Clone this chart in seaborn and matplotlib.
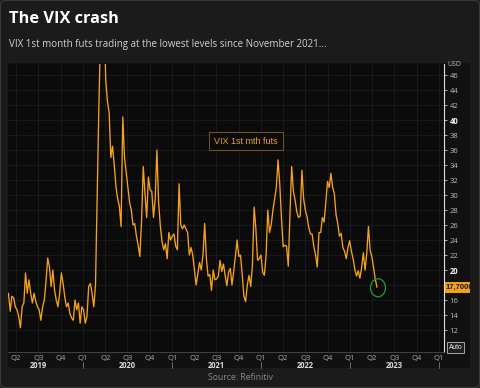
import numpy as np
import pandas as pd
import matplotlib
matplotlib.use("Agg")
import matplotlib.pyplot as plt
import matplotlib.dates as mdates
from matplotlib.patches import FancyBboxPatch, Ellipse, Rectangle
from matplotlib.transforms import Bbox, TransformedBbox, blended_transform_factory
import seaborn as sns

# ---------------- data (weekly readings) ----------------
start_date = "2019-03-01"
vix_values = [
    16.9, 14.5, 16.5, 16.3, 15.1, 14.7, 13.8, 12.3, 15.1, 15.6,
    19.6, 16.9, 18.7, 16.9, 15.6, 16.9, 15.8, 15.1, 14.7, 13.3,
    15.1, 16.0, 18.5, 21.6, 20.4, 17.8, 20.0, 17.3, 16.0, 15.1,
    16.9, 19.6, 18.2, 16.4, 15.1, 15.6, 14.2, 13.6, 13.3, 16.0,
    14.7, 15.6, 12.9, 15.1, 14.7, 12.9, 13.8, 17.8, 18.2, 16.9,
    15.1, 18.0, 30.0, 42.0, 52.0, 60.0, 55.0, 45.3, 42.5, 41.0,
    35.0, 36.5, 34.0, 31.1, 29.5, 28.5, 25.8, 40.4, 35.0, 33.0,
    31.0, 29.0, 28.0, 26.0, 26.2, 24.5, 23.3, 21.8, 26.5, 33.8,
    30.2, 27.0, 32.4, 30.7, 30.5, 27.0, 29.5, 36.0, 29.0, 25.9,
    23.8, 22.7, 23.5, 21.5, 25.0, 24.0, 24.5, 24.8, 23.2, 22.7,
    31.5, 26.0, 25.5, 26.0, 25.5, 25.0, 22.0, 23.0, 22.0, 20.0,
    18.0, 19.5, 21.0, 20.0, 22.0, 26.2, 21.5, 19.2, 19.4, 17.3,
    20.0, 18.7, 18.8, 19.2, 21.3, 19.8, 20.8, 19.3, 17.9, 19.7,
    20.2, 18.0, 19.8, 21.8, 24.0, 21.8, 22.0, 19.4, 16.5, 15.8,
    18.0, 19.3, 17.8, 20.7, 28.4, 25.5, 21.3, 21.5, 22.0, 19.7,
    19.3, 22.0, 28.0, 25.0, 26.0, 28.0, 29.5, 31.0, 34.7, 31.5,
    27.0, 23.1, 23.3, 23.2, 20.5, 27.5, 33.8, 30.5, 29.3, 27.8,
    27.0, 27.2, 33.3, 29.5, 28.0, 27.1, 25.7, 24.8, 24.8, 23.1,
    22.0, 20.4, 25.0, 25.0, 27.0, 26.4, 29.0, 31.8, 31.0, 32.9,
    31.0, 30.2, 27.4, 26.2, 24.5, 24.9, 23.0, 22.5, 21.5, 23.0,
    23.9, 22.5, 21.5, 20.1, 19.2, 19.9, 18.9, 20.3, 22.3, 20.0,
    22.2, 25.8, 22.6, 21.8, 20.3, 18.8, 17.7,
]
dates = pd.date_range(start_date, periods=len(vix_values), freq="7D")

quarter_starts = pd.date_range("2019-04-01", "2024-01-01", freq="QS")
quarter_labels = ["Q%d" % q for q in quarter_starts.quarter]
year_labels = ["2019", "2020", "2021", "2022", "2023"]
y_ticks = list(range(12, 47, 2))
hidden_tick = 18
last_label = "17,7000"

title = "The VIX crash"
subtitle = "VIX 1st month futs trading at the lowest levels since November 2021..."
series_label = "VIX 1st mth futs"
source = "Source: Refinitiv"

# ---------------- style ----------------
sns.set_theme(style="dark")
plt.rcParams["font.family"] = ["Open Sans", "DejaVu Sans"]

W, H = 480, 388
fig = plt.figure(figsize=(W / 100, H / 100), dpi=100, facecolor="#1b1b1b")

def fx(px):
    return px / W

def fy(py):
    return 1 - py / H

# outer frame
fig.patches.append(FancyBboxPatch((fx(0.5), fy(387.5)), fx(479), 387 / H,
                                  boxstyle="round,pad=0,rounding_size=0.01",
                                  transform=fig.transFigure, fc="none",
                                  ec="#3a3a3a", lw=0.8, zorder=-20))
# chart panel
fig.patches.append(FancyBboxPatch((fx(8), fy(368)), fx(470 - 8), (368 - 63) / H,
                                  boxstyle="round,pad=0,rounding_size=0.006",
                                  transform=fig.transFigure, fc="#111111",
                                  ec="none", zorder=-10))

ax = fig.add_axes([fx(8), fy(352), fx(444 - 8), (352 - 64) / H])
ax.set_facecolor("#0b0b0b")

sns.lineplot(x=dates, y=vix_values, ax=ax, color="#f5a21c", lw=0.95)

ax.set_xlim(pd.Timestamp("2019-02-27"), pd.Timestamp("2024-01-21"))
ax.set_ylim(9.07, 47.47)

ax.set_xticks(quarter_starts)
ax.set_xticklabels(quarter_labels)
ax.set_yticks(y_ticks)
ax.set_yticklabels(["" if v == hidden_tick else str(v) for v in y_ticks])
ax.yaxis.tick_right()
ax.set_xlabel("")
ax.set_ylabel("")

ax.grid(True, color="#1c1c1c", lw=0.6)
ax.tick_params(axis="x", length=0, pad=2.2, labelsize=5.5, labelcolor="#a8a8a8")
ax.tick_params(axis="y", length=2.5, width=0.6, color="#cfcfcf", pad=1.5,
               labelsize=5.5, labelcolor="#bdbdbd", direction="out")
for lbl in ax.get_yticklabels():
    if lbl.get_text() in ("20", "40"):
        lbl.set_fontweight("bold")
        lbl.set_color("#f0f0f0")

for s in ("top", "left"):
    ax.spines[s].set_visible(False)
ax.spines["right"].set_color("#e0e0e0")
ax.spines["right"].set_linewidth(0.8)
ax.spines["bottom"].set_color("#4a4a4a")
ax.spines["bottom"].set_linewidth(0.6)

# year labels & separators
bt = blended_transform_factory(ax.transData, ax.transAxes)
for yl in year_labels:
    ax.text(pd.Timestamp(f"{yl}-07-01"), -14 / 288, yl, transform=bt,
            ha="center", va="center", fontsize=5.5, fontweight="bold",
            color="#dcdcdc", clip_on=False)
for d in quarter_starts:
    if d.quarter == 1:
        ax.plot([d, d], [-10 / 288, -16 / 288], transform=bt, color="#7a7a7a",
                lw=0.6, clip_on=False)

# USD label at top of axis
fig.text(fx(447), fy(64), "USD", fontsize=5, color="#bdbdbd", ha="left",
         va="center")

# last-value highlight
fig.canvas.draw()
last_xy = ax.transData.transform((mdates.date2num(dates[-1]), vix_values[-1]))
ly = last_xy[1] / fig.dpi / (H / 100)
fig.patches.append(Rectangle((fx(444.5), ly - 5.5 / H), fx(470 - 444.5), 11 / H,
                             transform=fig.transFigure, fc="#f2a11e", ec="none"))
t = fig.text(fx(445.5), ly, last_label, fontsize=5.5, fontweight="bold",
             color="#1a1a1a", ha="left", va="center",
             family=["Liberation Sans", "DejaVu Sans"])
t.set_clip_on(True)
t.set_clip_box(TransformedBbox(Bbox([[0, 0], [470 / W, 1]]), fig.transFigure))

# green circle around the last value
ex = last_xy[0] / fig.dpi / (W / 100)
fig.patches.append(Ellipse((ex + 1 / W, ly - 0.5 / H), 15 / W, 18 / H,
                           transform=fig.transFigure, fc="none", ec="#229a3a",
                           lw=0.9))

# Auto box
fig.text(fx(455.5), fy(347.5), "Auto", fontsize=4.8, color="#f0f0f0",
         ha="center", va="center", family=["Liberation Sans", "DejaVu Sans"],
         bbox=dict(boxstyle="square,pad=0.25", fc="#1e1e1e", ec="#bdbdbd",
                   lw=0.6))

# series label box
fig.text(fx(246), fy(141), series_label, fontsize=6.5, color="#e9a032",
         ha="center", va="center", family=["Liberation Sans", "DejaVu Sans"],
         bbox=dict(boxstyle="square,pad=0.55", fc="#0b0b0b", ec="#6e5224",
                   lw=0.8))

# titles
fig.text(fx(9), fy(19), title, fontsize=11.8, fontweight="bold",
         color="#ffffff", ha="left", va="center")
fig.text(fx(9), fy(44), subtitle, fontsize=7, color="#d2d2d2", ha="left",
         va="center")
fig.text(fx(240), fy(378), source, fontsize=6.2, color="#8a8a8a",
         ha="center", va="center")

fig.savefig("out.png", dpi=100, facecolor=fig.get_facecolor())
